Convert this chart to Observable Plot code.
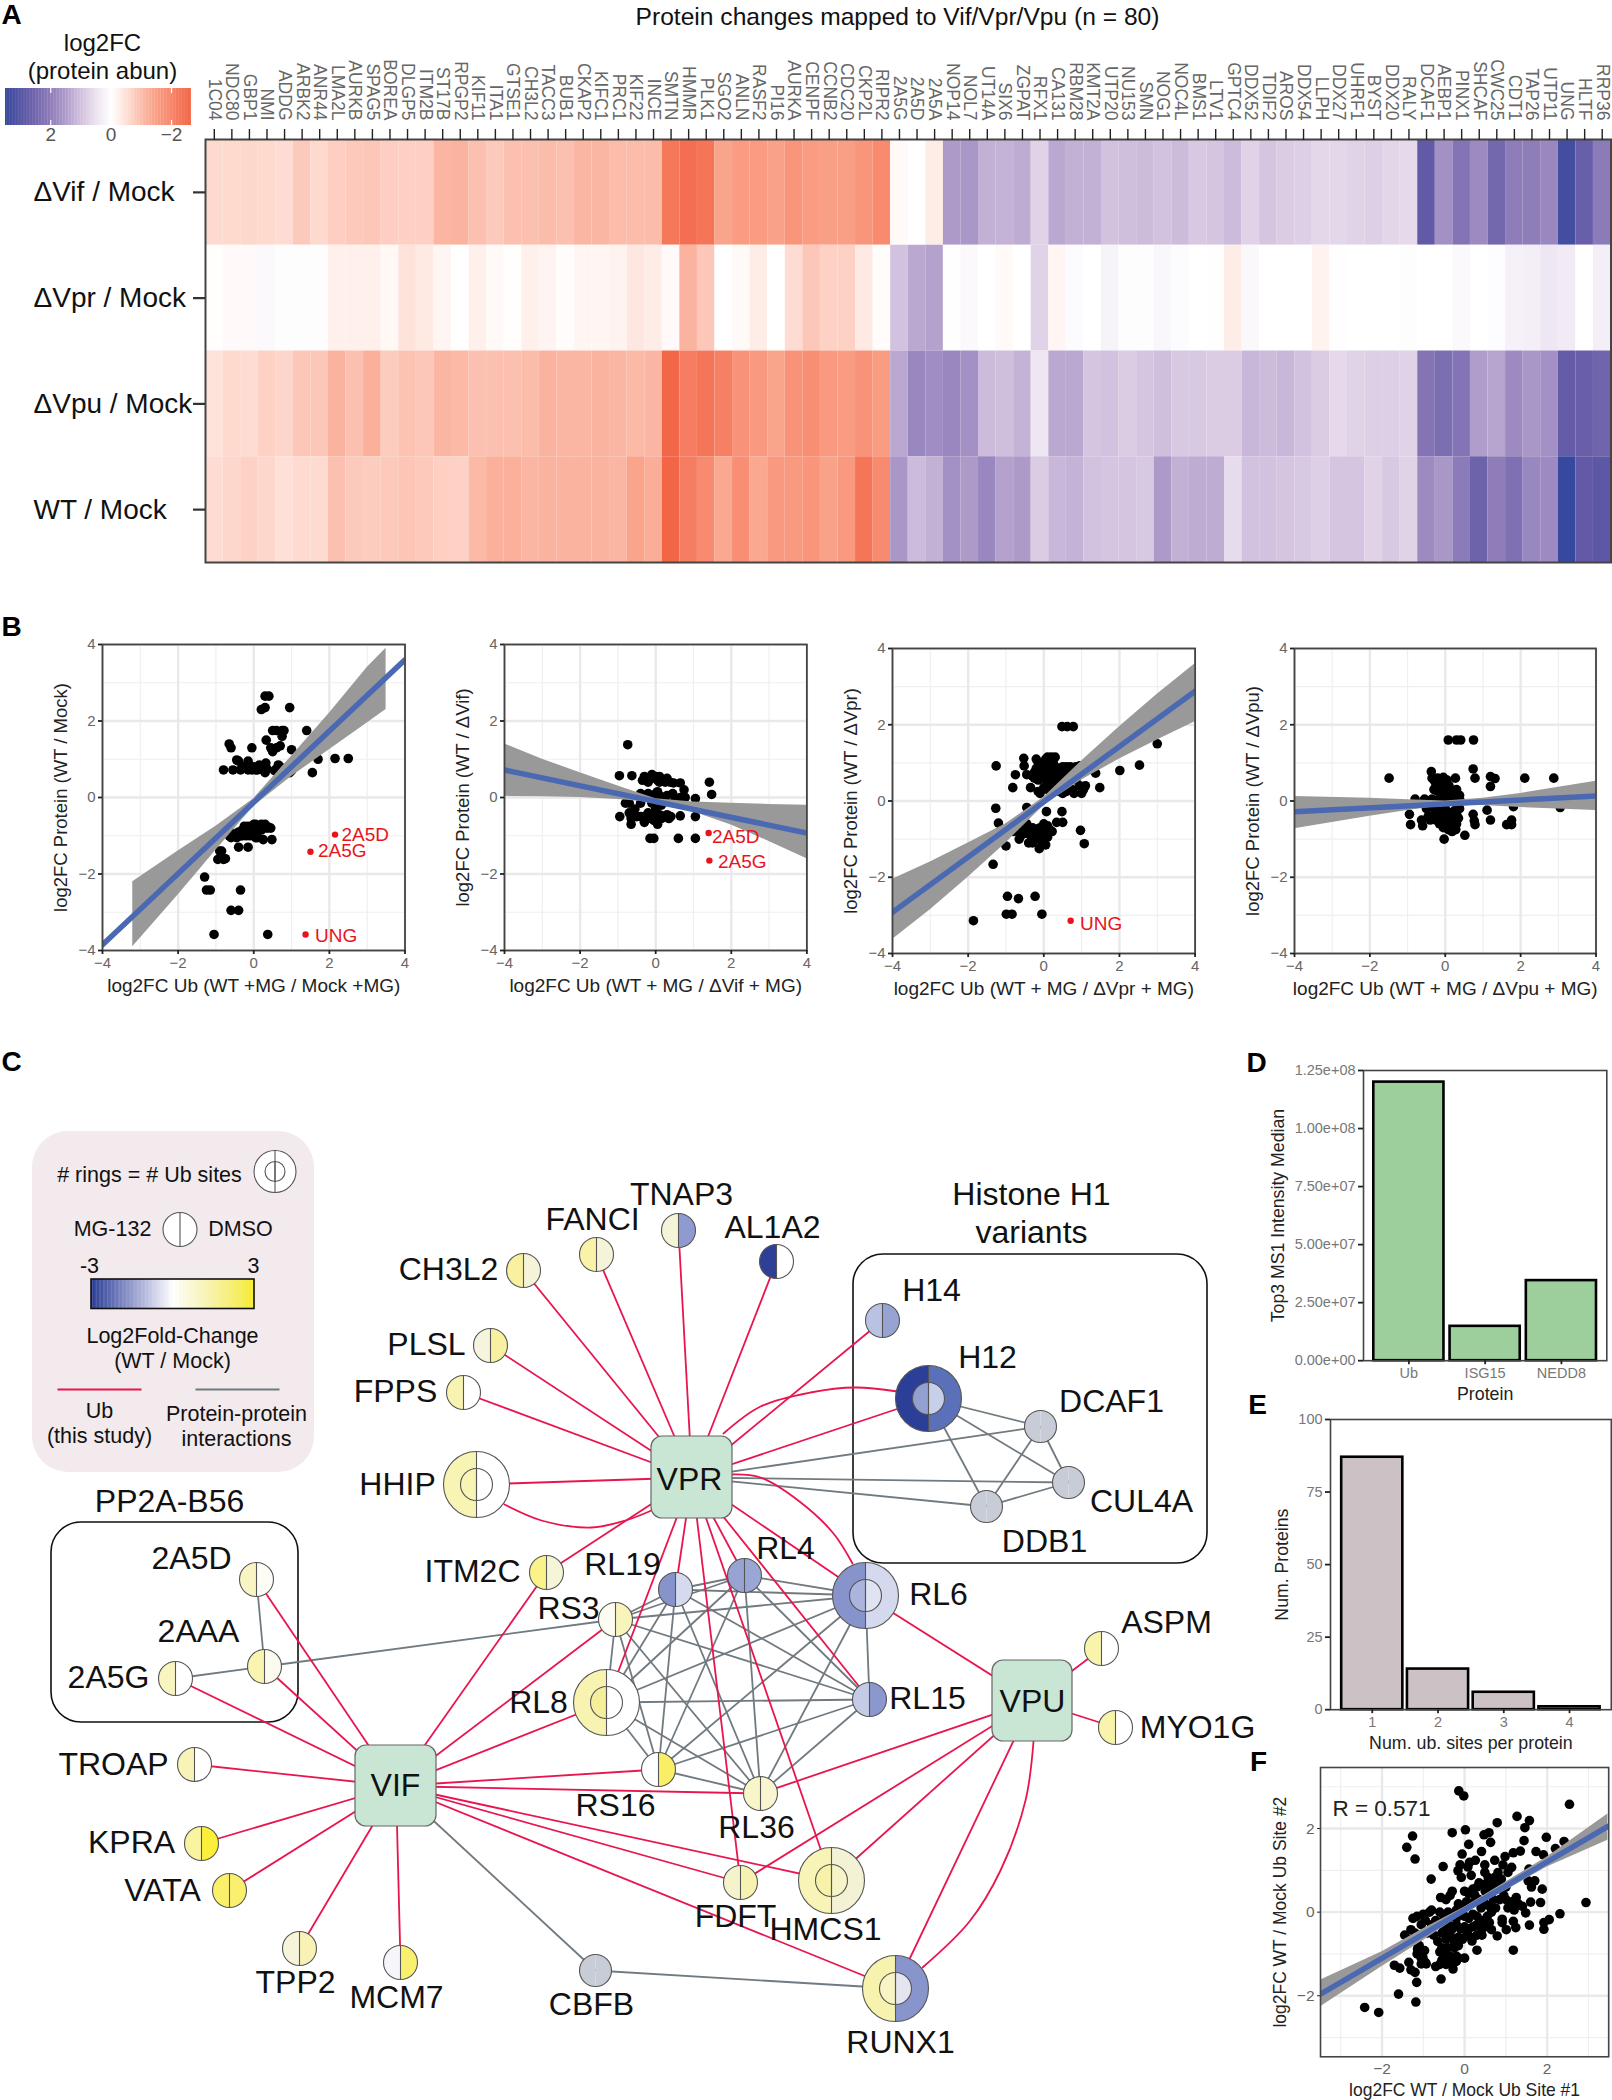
<!DOCTYPE html>
<html><head><meta charset="utf-8">
<script src="https://cdn.jsdelivr.net/npm/d3@7"></script>
<script src="https://cdn.jsdelivr.net/npm/@observablehq/plot@0.6"></script>
<style>html,body{margin:0;padding:0;background:#fff}#root{position:relative;width:1612px;height:2100px;overflow:hidden}</style>
</head><body><div id="root"></div>
<script>
const FONT = "'Liberation Sans',Arial,sans-serif";
// ---------- A: heatmap ----------
const proteinNames = ["1C04","NDC80","GBP1","NMI","ADDG","ARBK2","ANR44","LMA2L","AURKB","SPAG5","BOREA","DLGP5","ITM2B","ST17B","RPGP2","KIF11","ITA1","GTSE1","CH3L2","TACC3","BUB1","CKAP2","KIFC1","PRC1","KIF22","INCE","SMTN","HMMR","PLK1","SGO2","ANLN","RASF2","PI16","AURKA","CENPF","CCNB2","CDC20","CKP2L","RIPR2","2A5G","2A5D","2A5A","NOP14","NOL7","UT14A","SIX6","ZGPAT","RFX1","CA131","RBM28","KMT2A","UTP20","NU153","SMN","NOG1","NOC4L","BMS1","LTV1","GPTC4","DDX52","TDIF2","AROS","DDX54","LLPH","DDX27","UHRF1","BYST","DDX20","RALY","DCAF1","AEBP1","PINX1","SHCAF","CWC25","CDT1","TAP26","UTP11","UNG","HLTF","RRP36"];
const rowNames = ["ΔVif / Mock","ΔVpr / Mock","ΔVpu / Mock","WT / Mock"];
const vifRow = [-.6,-.6,-.62,-.6,-.55,-.8,-.6,-.75,-.82,-.85,-.75,-.72,-.72,-1.1,-1.15,-.95,-.8,-.95,-.95,-1,-.95,-1.1,-1.1,-1,-1,-1,-2.25,-2.4,-2.3,-1.4,-1.55,-1.55,-1.45,-1.7,-1.55,-1.5,-1.5,-1.7,-1.9,-.1,0,-.3,1.55,1.6,1.25,1.2,1.3,.75,1.35,1.25,1.25,1,1.05,1.1,1,1.1,.9,.95,1.1,.75,.95,.85,.8,.68,.68,.75,.8,.7,.65,2.8,1.7,2.2,1.8,2.5,2,2,1.85,3.3,2.7,2.05];
const vprRow = [-.02,-.08,-.08,.1,.03,.03,.03,-.25,-.25,-.25,-.12,-.45,-.35,-.15,0,-.25,-.1,-.02,-.25,-.18,-.05,-.15,-.15,-.2,-.38,-.3,-.08,-1.15,-.85,0,-.1,-.3,0,-.55,-.85,-.7,-.7,-.35,-.05,1,1.35,1.45,.02,.1,0,-.1,0,.75,-.15,.08,0,.2,.03,.03,.15,.07,0,.02,-.3,.12,0,0,0,-.2,.02,0,0,0,.03,0,0,.1,0,.05,.25,.3,.45,.35,0,.3];
const vpuRow = [-.45,-.6,-.55,-.7,-.65,-.85,-.85,-1.15,-.95,-1.2,-.78,-.9,-.85,-1.1,-1.05,-.95,-.95,-.95,-1,-1.15,-1.1,-1.1,-1.15,-1.1,-1.05,-1.1,-2.55,-2.15,-2.3,-2.1,-1.75,-1.6,-1.4,-1.75,-1.8,-1.6,-1.55,-1.75,-1.55,1.35,1.85,1.75,1.85,1.7,1.1,1.05,1.2,.45,1.35,1.35,.95,1,.85,.95,1.05,.9,.9,.85,.85,1.15,1.1,1.15,1,.85,.65,.75,.8,.8,.75,2.2,2.35,2.2,1.5,1.4,1.8,1.6,1.7,2.75,2.7,2.55];
const wtRow = [-.55,-.62,-.7,-.62,-.5,-.58,-.58,-.95,-.8,-.78,-.82,-.88,-.82,-.72,-.7,-1.05,-1.2,-1.2,-1.1,-1.15,-1.15,-1.15,-1.15,-1.1,-1.4,-1.25,-2.6,-2.15,-1.9,-1.35,-1.8,-1.35,-1.6,-1.6,-1.7,-1.45,-1.6,-2.3,-1.9,1.6,1.1,1.25,1.7,1.55,1.85,1.45,1.55,.85,1.15,1.2,1,.95,.95,.9,1.55,1.25,1.3,1.3,.6,1,1,.95,.9,.8,.95,.95,.75,.9,.75,1.8,1.6,2.05,2.6,2,2.3,1.85,1.8,3.5,2.8,2.9];
const heatRows = [vifRow,vprRow,vpuRow,wtRow];
const heatStops = [-2.63,-2,-1.5,-1,-.5,0,.5,1,1.5,2,2.8,3.5];
const heatColors = ["#f26344","#f7856a","#f99f85","#fbbcaa","#fee0d7","#ffffff","#ece3f0","#d3c2df","#b09dcb","#8f7dba","#625aa6","#37499e"];
const heatLegendTicks = [2,0,-2];
// ---------- B: scatter panels ----------
const b1Points = [[.3,2.65],[.4,2.65],[.2,2.3],[.3,2.35],[.95,2.35],[.5,1.75],[.6,1.75],[.75,1.75],[.8,1.75],[1.4,1.75],[.75,1.6],[.33,1.5],[-.65,1.4],[-.6,1.3],[.45,1.3],[.6,1.3],[.7,1.35],[-.05,1.3],[1,1.25],[1.4,1.35],[.5,1.2],[-.45,.98],[-.4,.95],[-.15,.95],[1.1,1],[1.7,1],[2.15,1.02],[2.5,1.02],[1.5,1.1],[1.55,.65],[-.8,.72],[-.55,.72],[-.35,.72],[-.3,.8],[-.15,.72],[-.05,.72],[0,.8],[.05,.72],[.1,.72],[.15,.85],[.25,.72],[.3,.65],[.32,.9],[.35,.75],[.55,.7],[.6,.75],[.65,.85],[.7,.8],[.85,.68],[.95,.65],[1,.7],[-.65,-1],[-.6,-1.05],[-.55,-.95],[-.5,-1],[-.45,-1.05],[-.4,-.9],[-.35,-1],[-.3,-.85],[-.25,-.95],[-.2,-.8],[-.15,-.75],[-.1,-.85],[-.05,-.75],[0,-.7],[.05,-.7],[.1,-.75],[.15,-.8],[.2,-.7],[.25,-.75],[.3,-.7],[.35,-.8],[.4,-.78],[.45,-.8],[.05,-1.05],[.1,-1.05],[.25,-1.1],[.48,-1.1],[-.4,-1.3],[-.15,-1.3],[-.9,-1.4],[-.85,-1.4],[-.95,-1.62],[-.8,-1.62],[-.75,-1.6],[-1.3,-2.08],[-1.25,-2.42],[-1.15,-2.42],[-.35,-2.42],[-.6,-2.95],[-.4,-2.95],[-1.05,-3.58],[.37,-3.58],[-.3,-1],[-.2,-1],[-.1,-1],[0,-.95],[.1,-.9],[.2,-.85],[-.25,-.75],[-.05,-.9],[.02,-.85]];
const b1Red = [[2.15,-.97],[1.5,-1.42],[1.37,-3.58]];
const b1Labels = [["2A5D",2.32,-.97],["2A5G",1.7,-1.4],["UNG",1.62,-3.63]];
const b1Line = [[-4,-3.85],[4,3.6]];
const b1BandX = [-3.2,-2,-1,0,1,2,3,3.5];
const b1BandLo = [-3.9,-2.55,-1.38,-.23,.55,1.25,1.95,2.3];
const b1BandHi = [-2.2,-1.4,-.75,-.03,1.08,2.2,3.4,3.9];
const b2Points = [[-.74,1.38],[-.96,.57],[-.63,.57],[-.35,.45],[-.3,.55],[-.2,.4],[-.1,.5],[-.1,.6],[0,.55],[.05,.45],[.1,.4],[.1,.55],[.2,.45],[.25,.4],[.3,.5],[.38,.4],[.47,.38],[.65,.38],[.75,.2],[1.42,.4],[1.48,.08],[-.4,.1],[-.3,.05],[-.2,.1],[-.1,0],[0,.1],[.05,.15],[.1,.05],[.2,0],[.3,.05],[.45,.1],[.78,0],[.65,0],[1.05,-.03],[.5,-.1],[-.95,-.5],[-.8,-.15],[-.7,-.15],[-.7,-.4],[-.65,-.55],[-.65,-.7],[-.55,-.3],[-.5,-.5],[-.4,-.15],[-.4,-.5],[-.3,-.5],[-.3,-.65],[-.2,-.4],[-.2,-.55],[-.1,-.15],[-.1,-.45],[-.05,-.6],[0,-.3],[0,-.55],[.05,-.7],[.1,-.45],[.15,-.2],[.15,-.55],[.2,-.5],[.3,-.45],[.35,-.55],[.4,-.5],[.65,-.48],[1.05,-.5],[-.15,-1.07],[-.05,-1.07],[.6,-1.07],[1.05,-1.07]];
const b2Red = [[1.4,-.93],[1.42,-1.65]];
const b2Labels = [["2A5D",1.49,-1.03],["2A5G",1.65,-1.69]];
const b2Line = [[-4,.72],[4,-.93]];
const b2BandX = [-4,-3,-2,-1,0,1,2,3,4];
const b2BandLo = [.03,.02,0,-.05,-.14,-.38,-.72,-1.15,-1.6];
const b2BandHi = [1.4,1,.65,.3,-.03,-.12,-.15,-.18,-.2];
const b3Points = [[.78,1.95],[.48,1.95],[.62,1.95],[3,1.5],[2.53,.94],[2.01,.8],[1.48,.35],[1.37,.73],[-1.26,.92],[-.75,.69],[-.82,.35],[-.53,1.12],[-.52,.92],[-.45,.69],[-.35,.35],[-.2,1.1],[-.15,1],[-.1,.9],[-.2,.85],[-.3,.65],[-.25,.75],[-.15,.7],[-.05,.8],[0,1],[.05,1.1],[.1,1.15],[.2,1.15],[.3,1.15],[.15,1],[.25,1],[.3,.9],[.35,.85],[.5,.9],[.6,.9],[.7,.9],[.85,.9],[.95,.92],[.05,.85],[.1,.8],[.2,.85],[.25,.7],[.15,.65],[.05,.65],[-.05,.6],[-.15,.55],[-.25,.6],[.35,.6],[.45,.7],[.55,.7],[.65,.7],[.4,.55],[.5,.5],[.6,.55],[.3,.45],[.2,.5],[.1,.5],[.75,.6],[.85,.55],[-.15,.25],[-.1,.2],[0,.35],[.1,.3],[.2,.3],[.3,.25],[.4,.25],[.5,.2],[.6,.25],[.75,.3],[.8,.2],[1.05,.3],[1,.2],[1.1,.4],[.95,.4],[-1.27,-.19],[-1.2,-.58],[-.45,-.17],[.07,-.28],[.48,-.28],[.34,-.56],[.5,-.56],[.97,-.77],[1.07,-1.12],[-1,-1.18],[-1.34,-1.66],[-.8,-.8],[-.7,-.75],[-.6,-.65],[-.55,-.75],[-.45,-.6],[-.4,-.75],[-.3,-.7],[-.2,-.75],[-.1,-.7],[0,-.6],[.1,-.65],[.15,-.75],[.22,-.8],[-.65,-1],[-.6,-.9],[-.5,-.85],[-.4,-1.1],[-.35,-.9],[-.25,-.95],[-.15,-.85],[-.1,-1],[-.05,-.9],[0,-1],[.05,-.85],[.1,-.95],[-.12,-1.25],[-.05,-1.1],[.05,-1.15],[-.3,-1.1],[-.55,-.85],[-.96,-2.5],[-.67,-2.56],[-.23,-2.5],[-.99,-2.97],[-.84,-2.97],[-.05,-2.97],[-1.86,-3.14]];
const b3Red = [[.71,-3.14]];
const b3Labels = [["UNG",.96,-3.22]];
const b3Line = [[-4,-2.92],[4,2.88]];
const b3BandX = [-4,-3,-2,-1,0,1,2,3,4];
const b3BandLo = [-3.63,-2.85,-2,-1.1,-.12,.55,1.1,1.6,2.08];
const b3BandHi = [-2.05,-1.6,-1.1,-.6,.1,1.05,1.95,2.8,3.6];
const b4Points = [[.08,1.6],[.3,1.6],[.41,1.6],[.75,1.6],[.74,.84],[-1.49,.6],[-.37,.77],[.79,.6],[2.11,.6],[2.88,.6],[1.2,.64],[1.32,.59],[1.2,.38],[.27,.6],[-.05,.62],[-.35,.6],[-.3,.55],[-.25,.4],[-.2,.6],[-.15,.5],[-.1,.55],[-.05,.45],[0,.5],[.05,.55],[.1,.4],[-.05,.3],[-.3,.3],[-.2,.25],[0,.2],[.1,.2],[.2,.2],[.3,.3],[.38,.15],[.3,.05],[.2,.05],[-.8,.05],[-.55,.05],[-.45,0],[-.35,.05],[-.25,0],[-.15,.05],[-.05,0],[.05,.02],[.15,0],[.25,0],[.35,.03],[.4,0],[-.5,-.2],[-.45,-.4],[-.4,-.5],[-.35,-.15],[-.3,-.35],[-.25,-.5],[-.2,-.25],[-.15,-.4],[-.1,-.55],[-.05,-.3],[0,-.2],[0,-.45],[.05,-.6],[.1,-.3],[.1,-.5],[.15,-.7],[.2,-.4],[.2,-.55],[.25,-.25],[.3,-.35],[.3,-.6],[.35,-.45],[.38,-.2],[.08,-.75],[.18,-.8],[-.15,-.6],[-.05,-.7],[0,-.65],[.28,-.75],[-.95,-.35],[-.92,-.62],[-.63,-.5],[-.6,-.65],[-.03,-1],[.52,-.9],[.74,-.35],[.77,-.52],[.79,-.62],[1.11,-.24],[1.2,-.5],[1.63,-.62],[1.76,-.5],[1.76,-.62],[1.81,-.15],[3.05,-.17]];
const b4Line = [[-4,-.28],[4,.13]];
const b4BandX = [-4,-2,-1,0,1,2,4];
const b4BandLo = [-.73,-.4,-.25,-.12,-.12,-.17,-.25];
const b4BandHi = [.12,.07,.03,0,.07,.2,.52];
// ---------- D, E ----------
const dProteins = ["Ub","ISG15","NEDD8"];
const dValues = [1.2e8,1.48e7,3.45e7];
const dTicks = [0,2.5e7,5e7,7.5e7,1e8,1.25e8];
const dTickLabels = ["0.00e+00","2.50e+07","5.00e+07","7.50e+07","1.00e+08","1.25e+08"];
const eSites = ["1","2","3","4"];
const eCounts = [87,14,6,1];
const eTicks = [0,25,50,75,100];
// ---------- F ----------
const fPoints = [[-.14,2.9],[-.02,2.78],[2.54,2.58],[1.27,2.29],[1.57,2.19],[1.46,2.02],[.79,2.14],[.02,1.97],[-.3,1.9],[.59,1.9],[.47,1.85],[-1.26,1.82],[1.98,1.79],[2.41,1.69],[1.44,1.71],[.63,1.67],[.1,1.62],[-1.4,1.55],[2.2,1.52],[.41,1.45],[-.06,1.39],[1.35,1.46],[1.18,1.42],[1.73,1.45],[1.91,1.37],[-1.2,1.27],[.98,1.33],[.73,1.24],[.26,1.24],[.12,1.19],[-.52,1.09],[-.11,1.13],[.49,1.13],[.93,1.13],[1.14,1.07],[.08,1.08],[-.16,.99],[-.81,.79],[.16,.88],[-.08,.83],[.49,.95],[.81,.95],[1.05,.95],[.73,.83],[.57,.83],[.89,.79],[1.56,1.03],[1.7,.75],[1.54,.75],[1.62,.6],[1.88,.55],[1.6,.24],[1.84,.23],[2.94,.23],[2.31,-.04],[2.05,-.18],[1.92,-.25],[1.92,-.41],[1.48,-.02],[1.4,.14],[1.57,-.31],[1.24,-.37],[1.18,-.22],[.91,-.17],[.91,-.25],[1.01,-.42],[.79,-.57],[.65,-.42],[1.18,-.91],[.3,-.91],[.18,-.69],[0,-1.1],[-.2,-1.18],[-.28,-1.36],[-.57,-1.6],[-1.16,-1.68],[-1.18,-2.15],[-1.6,-1.96],[-2.42,-2.28],[-2.08,-2.4],[-1.7,-1.27],[-1.57,-1.34],[-1.35,-1.2],[-1.3,-1.38],[-1.2,-1.44],[-.93,-1.24],[-1.05,-1.24],[-1.01,-1.08],[-1.14,-.88],[-.97,-.92],[0,.5],[.1,.45],[.2,.55],[.25,.4],[.3,.6],[.35,.7],[.45,.65],[.5,.5],[.55,.7],[.6,.75],[.65,.6],[.7,.7],[.8,.6],[.85,.7],[.9,.55],[1,.6],[.95,.4],[.35,.3],[.25,.25],[.15,.2],[.05,.25],[-.05,.15],[-.15,.2],[-.2,.05],[-.3,.5],[-.35,.4],[-.45,.3],[-.58,.35],[.4,.1],[.5,.2],[.6,.15],[.7,.3],[.85,.3],[1,.3],[1.15,.25],[1.25,.35],[1.3,.2],[1.2,.05],[1.05,.1],[.75,.1],[.65,0],[.55,-.1],[.45,-.2],[.3,-.1],[.2,-.05],[.1,-.15],[0,-.1],[-.1,-.05],[-.2,-.15],[-.3,-.05],[-.4,0],[-.5,-.1],[-.6,0],[-.8,.05],[-.85,0],[-1,-.05],[-1.15,-.1],[-1.25,-.15],[-.95,-.2],[-1.05,-.3],[-.8,-.3],[-.7,-.2],[-.6,-.3],[-.5,-.4],[-.4,-.3],[-.3,-.4],[-.2,-.3],[-.1,-.4],[0,-.35],[.1,-.4],[.2,-.35],[.3,-.3],[.4,-.45],[.5,-.35],[.6,-.25],[-1.3,-.42],[-1.2,-.5],[-1.45,-.55],[-1.35,-.65],[-1.2,-.7],[-1.1,-.8],[-.9,-.5],[-.75,-.55],[-.65,-.7],[-.55,-.5],[-.45,-.65],[-.35,-.55],[-.25,-.7],[-.15,-.6],[-.05,-.65],[.05,-.55],[.15,-.6],[.3,-.55],[.42,-.55],[-.55,-.85],[-.4,-.85],[-.25,-.85],[-.15,-.8],[-.6,-.95],[-.5,-1],[-.45,-1.1],[-.35,-1.05],[-.3,-1.15],[-.2,-1.05],[-.15,-1.1],[-.55,-1.15],[-.6,-1.25],[-.7,-1.3],[-.45,-1.25],[-.3,-1.25],[-1.15,-1],[-1.05,-.95],[-.95,-1.2],[-1.05,-1.1]];
const fLine = [[-3.47,-1.95],[3.47,2.05]];
const fBandX = [-3.47,-2,-1,0,1,2,3.47];
const fBandLo = [-2.25,-1.3,-.68,-.02,.52,1.08,1.72];
const fBandHi = [-1.62,-.95,-.4,.12,.72,1.32,2.35];
// ---------- C: network ----------
// name, x, y, r, left colour, right colour, (inner left, inner right)
const GRAYN = "#c8ccd6";
const nodeTable = [
["TNAP3",678,1230,17,"#f4f4d8","#8f9bd0"],["FANCI",596,1254,17,"#f9f2a8","#f6f4d8"],["CH3L2",523,1270,17,"#f9f0a0","#f5f4d8"],["AL1A2",776,1261,17,"#2d3f96","#ffffff"],
["H14",882,1320,17,"#b9c2e2","#97a3d3"],["H12",928,1398,33,"#2b3e98","#5a70b8","#93a0d2","#c8cfe9"],["DCAF1",1040,1426,16,GRAYN,GRAYN],["CUL4A",1068,1482,16,GRAYN,GRAYN],["DDB1",986,1506,16,GRAYN,GRAYN],
["PLSL",490,1345,17,"#f5f5de","#f9f0a0"],["FPPS",463,1392,17,"#f8f3b0","#ffffff"],["HHIP",476,1484,33,"#f8f4b4","#ffffff","#f8f4b4","#ffffff"],["ITM2C",546,1572,17,"#fbf28a","#f5f5d8"],
["RL19",675,1589,17,"#8794cc","#d5daee"],["RL4",744,1575,17,"#97a3d3","#9aa6d4"],["RL6",865,1595,33,"#8793cb","#d4d9ee","#aab4dc","#e0e3f2"],["RS3",615,1619,17,"#fcfcf2","#f8f4bc"],
["ASPM",1101,1648,17,"#f8f4ac","#ffffff"],["MYO1G",1115,1727,17,"#f8f4ac","#ffffff"],
["2A5D",256,1579,17,"#f8f4c4","#fdfdf5"],["2AAA",264,1666,17,"#f9f4b0","#fafaee"],["2A5G",175,1678,17,"#f8f5c0","#ffffff"],
["TROAP",194,1764,17,"#f8f4b8","#ffffff"],["KPRA",201,1843,17,"#f9f4a0","#fbef3a"],["VATA",229,1890,17,"#fbf06a","#faf06e"],["TPP2",299,1948,17,"#f6f5dc","#f8f2b4"],["MCM7",400,1962,17,"#f5f5fa","#faf070"],
["CBFB",595,1970,16,GRAYN,GRAYN],["RUNX1",895,1988,33,"#f7f3ae","#8894cc","#f8f4c4","#e4e5ee"],["HMCS1",831,1880,33,"#f8f4b8","#f4f2d4","#f8f2a8","#f7f5c8"],["FDFT",740,1882,17,"#f5f3cc","#f8f2b0"],
["RL36",760,1793,17,"#f8f5c8","#f8f5d0"],["RS16",658,1769,17,"#ffffff","#f9ee66"],["RL8",606,1702,33,"#f8f3b0","#ffffff","#f6ee9a","#ffffff"],["RL15",869,1699,17,"#c3cbe6","#8b97ce"]];
const legendDots = [["",274.5,1171,21,"#ffffff","#ffffff","#ffffff","#ffffff"],["",179.5,1229,17,"#ffffff","#ffffff"]];
// name, x1, x2, y1, y2
const hubBoxes = [["VPR",651,732,1436,1518],["VIF",355,436,1745,1826],["VPU",992,1072,1660,1741]];
const ubEdges = [["VPR","TNAP3"],["VPR","FANCI"],["VPR","CH3L2"],["VPR","AL1A2"],["VPR","H14"],["VPR","PLSL"],["VPR","FPPS"],["VPR","HHIP"],["VPR","H12"],["VPR","ITM2C"],["VPR","RL19"],["VPR","RL4"],["VPR","RL6"],["VPR","RL8"],["VPR","RL15"],["VPR","FDFT"],["VPR","HMCS1"],
["VIF","ITM2C"],["VIF","RS3"],["VIF","RL8"],["VIF","RS16"],["VIF","RL36"],["VIF","FDFT"],["VIF","HMCS1"],["VIF","RUNX1"],["VIF","2A5D"],["VIF","2AAA"],["VIF","2A5G"],["VIF","TROAP"],["VIF","KPRA"],["VIF","VATA"],["VIF","TPP2"],["VIF","MCM7"],
["VPU","RL6"],["VPU","RL36"],["VPU","FDFT"],["VPU","HMCS1"],["VPU","RUNX1"],["VPU","ASPM"],["VPU","MYO1G"]];
const ppiEdges = [["H12","DCAF1"],["H12","CUL4A"],["H12","DDB1"],["DCAF1","CUL4A"],["DCAF1","DDB1"],["CUL4A","DDB1"],["VPR","DCAF1"],["VPR","CUL4A"],["VPR","DDB1"],["2A5D","2AAA"],["2A5G","2AAA"],["2AAA","RS3"],["VIF","CBFB"],["CBFB","RUNX1"]];
const ribosome = ["RL19","RL4","RL6","RS3","RL8","RL15","RS16","RL36"];
const curvedUb = [
[[504,1504],[541,1520],[591,1527],[625,1520],[651,1510]],
[[897,1391],[855,1387],[810,1392],[760,1406],[723,1433]],
[[732,1474],[760,1477],[799,1501],[833,1533],[852,1563]],
[[922,1967],[969,1921],[1000,1870],[1025,1800],[1033,1741]]];
// text, x, y
const nodeLabels = [["TNAP3",681,1194],["FANCI",592,1219],["CH3L2",448,1269],["AL1A2",772,1227],["H14",931,1290],["H12",987,1357],["DCAF1",1111,1401],["CUL4A",1141,1501],["DDB1",1044,1541],["Histone H1",1031,1194],["variants",1031,1232],["PLSL",426,1344],["FPPS",395,1391],["HHIP",397,1484],["ITM2C",472,1571],["RL19",622,1564],["RL4",785,1548],["RL6",938,1594],["RS3",568,1608],["ASPM",1166,1622],["MYO1G",1197,1727],["VPU",1032,1701],["VPR",689,1479],["2A5D",191,1558],["2AAA",198,1631],["2A5G",108,1677],["PP2A-B56",169,1501],["TROAP",113,1764],["KPRA",131,1842],["VATA",162,1890],["TPP2",295,1982],["MCM7",396,1997],["CBFB",591,2004],["RUNX1",900,2042],["HMCS1",825,1929],["FDFT",735,1916],["RL36",756,1827],["RS16",615,1805],["RL8",538,1702],["RL15",927,1698],["VIF",395,1785]];
const legendLabels = [["# rings = # Ub sites",149,1175],["MG-132",112,1229],["DMSO",240,1229],["-3",89,1266],["3",253,1266],["Log2Fold-Change",172,1336],["(WT / Mock)",172,1361],["Ub",99,1411],["(this study)",99,1436],["Protein-protein",236,1414],["interactions",236,1439]];
const legendBarStops = [-3,-1.8,-.6,0,.6,1.8,3];
const legendBarColors = ["#2b3e98","#7f89c2","#d5d8ec","#ffffff","#fbf9d8","#f7f08c","#f7ec2a"];
const panelLetters = [["A",11,15],["B",11,627],["C",11,1062],["D",1256,1063],["E",1257,1405],["F",1258,1762]];
const bigTitle = [["Protein changes mapped to Vif/Vpr/Vpu (n = 80)",897,17]];
const heatLegendTitle = [["log2FC",102,43],["(protein abun)",102,71]];
const groupBoxes = [[51,298,1522,1722],[853,1207,1254,1563]];
const legendPanel = [[32,314,1131,1472]];
const legendKeys = [[57,141,1389,"#e8154f"],[195,279,1389,"#707a80"]];

const base = {fontFamily:FONT,background:"transparent",overflow:"visible",position:"absolute"};
const at = (left,top)=>({...base,left:left+"px",top:top+"px"});
const root = document.getElementById("root");
const add = p => root.appendChild(p);
const intTick = d => d<0 ? "−"+(-d) : String(d);

// ---------- A ----------
const heatData = rowNames.flatMap((r,i)=>proteinNames.map((p,j)=>({p,r,v:heatRows[i][j]})));
const heatScale = {type:"linear",domain:heatStops,range:heatColors,clamp:true};
add(Plot.plot({
  width:1612,height:572,marginLeft:205,marginRight:1.5,marginTop:139,marginBottom:10,
  style:at(0,0),
  x:{domain:proteinNames,padding:0,round:false,label:null},
  y:{domain:rowNames,padding:0,round:false,label:null},
  color:heatScale,
  marks:[
    Plot.cell(heatData,{x:"p",y:"r",fill:"v"}),
    Plot.frame({stroke:"#444",strokeWidth:2}),
    Plot.axisX({anchor:"top",tickRotate:90,tickSize:11,tickPadding:8,fontSize:17.5,fill:"#666",stroke:"#222",strokeWidth:1.4,label:null}),
    Plot.axisY({anchor:"left",tickSize:12,tickFormat:()=>"",stroke:"#333",strokeWidth:2.2,label:null}),
    Plot.text(rowNames,{y:d=>d,frameAnchor:"left",dx:-172,textAnchor:"start",fontSize:28,fill:"#111",text:d=>d})
  ]
}));
// heat legend
const heatRamp = d3.range(3.5,-2.63,-0.05);
add(Plot.plot({
  width:195,height:77,marginLeft:5,marginRight:5,marginTop:8,marginBottom:32,
  style:at(0,80),
  x:{domain:[3.5,-2.63],label:null},y:{axis:null},
  color:heatScale,
  marks:[
    Plot.rect(heatRamp,{x1:d=>d,x2:d=>d-0.06,fill:d=>d}),
    Plot.tickX(heatLegendTicks,{x:d=>d,stroke:"#fff",strokeWidth:1.2,insetTop:0,insetBottom:32}),
    Plot.tickX(heatLegendTicks,{x:d=>d,stroke:"#fff",strokeWidth:1.2,insetTop:32,insetBottom:0}),
    Plot.axisX({ticks:heatLegendTicks,tickFormat:intTick,tickSize:0,tickPadding:2,fontSize:19,fill:"#555",label:null})
  ]
}));
// ---------- scatter helper ----------
function gridMarks(domainMajor,domainMinor){
  return [
    Plot.ruleX(domainMinor,{stroke:"#efefef",strokeWidth:1.2}),Plot.ruleY(domainMinor,{stroke:"#efefef",strokeWidth:1.2}),
    Plot.ruleX(domainMajor,{stroke:"#e9e9e9",strokeWidth:2.4}),Plot.ruleY(domainMajor,{stroke:"#e9e9e9",strokeWidth:2.4})
  ];
}
function fitMarks(bandX,lo,hi,line){
  const band = bandX.map((x,i)=>({x,lo:lo[i],hi:hi[i]}));
  return [
    Plot.areaY(band,{x:"x",y1:"lo",y2:"hi",fill:"#999",curve:"linear"}),
    Plot.line(line,{x:d=>d[0],y:d=>d[1],stroke:"#4a69b2",strokeWidth:5.5,clip:true})
  ];
}
function scatter(c){
  const ml=80,mr=12,mt=8,mb=60;
  add(Plot.plot({
    width:c.right-c.left+ml+mr,height:c.bottom-c.top+mt+mb,marginLeft:ml,marginRight:mr,marginTop:mt,marginBottom:mb,
    style:at(c.left-ml,c.top-mt),
    x:{domain:[-4,4],label:null},y:{domain:[-4,4],label:null},
    marks:[
      ...gridMarks([-4,-2,0,2,4],[-3,-1,1,3]),
      Plot.dot(c.pts,{x:d=>d[0],y:d=>d[1],r:4.8,fill:"#000"}),
      ...fitMarks(c.bx,c.lo,c.hi,c.line),
      Plot.dot(c.red||[],{x:d=>d[0],y:d=>d[1],r:3.2,fill:"#e8141c"}),
      Plot.text(c.labels||[],{x:d=>d[1],y:d=>d[2],text:d=>d[0],textAnchor:"start",fontSize:19,fill:"#e8141c"}),
      Plot.frame({stroke:"#444",strokeWidth:1.8}),
      Plot.axisX({ticks:[-4,-2,0,2,4],tickFormat:intTick,tickSize:4,tickPadding:3,fontSize:15,fill:"#666",stroke:"#222",strokeWidth:1.8,label:null}),
      Plot.axisY({ticks:[-4,-2,0,2,4],tickFormat:intTick,tickSize:4,tickPadding:3,fontSize:15,fill:"#666",stroke:"#222",strokeWidth:1.8,label:null}),
      Plot.text([c.xl],{frameAnchor:"bottom",textAnchor:"middle",dy:35,lineAnchor:"middle",fontSize:19,fill:"#222",text:d=>d}),
      Plot.text([c.yl],{frameAnchor:"left",textAnchor:"middle",dx:-41,rotate:-90,lineAnchor:"middle",fontSize:18.5,fill:"#222",text:d=>d})
    ]
  }));
}
scatter({left:102,right:404.5,top:644,bottom:950,pts:b1Points,red:b1Red,labels:b1Labels,bx:b1BandX,lo:b1BandLo,hi:b1BandHi,line:b1Line,xl:"log2FC Ub (WT +MG / Mock +MG)",yl:"log2FC Protein (WT / Mock)"});
scatter({left:503.6,right:806,top:644,bottom:950,pts:b2Points,red:b2Red,labels:b2Labels,bx:b2BandX,lo:b2BandLo,hi:b2BandHi,line:b2Line,xl:"log2FC Ub (WT + MG / ΔVif + MG)",yl:"log2FC Protein (WT / ΔVif)"});
scatter({left:892,right:1194.6,top:647.7,bottom:952.7,pts:b3Points,red:b3Red,labels:b3Labels,bx:b3BandX,lo:b3BandLo,hi:b3BandHi,line:b3Line,xl:"log2FC Ub (WT + MG / ΔVpr + MG)",yl:"log2FC Protein (WT / ΔVpr)"});
scatter({left:1293.5,right:1595,top:647.7,bottom:952.7,pts:b4Points,bx:b4BandX,lo:b4BandLo,hi:b4BandHi,line:b4Line,xl:"log2FC Ub (WT + MG / ΔVpu + MG)",yl:"log2FC Protein (WT / ΔVpu)"});

// ---------- D ----------
function barPanel(c){
  const ml=95,mr=5,mt=8,mb=50;
  const rows=c.cats.map((k,i)=>({k,v:c.vals[i]}));
  add(Plot.plot({
    width:c.right-c.left+ml+mr,height:c.bottom-c.top+mt+mb,marginLeft:ml,marginRight:mr,marginTop:mt,marginBottom:mb,
    style:at(c.left-ml,c.top-mt),
    x:{domain:c.cats,paddingInner:c.pi,paddingOuter:c.po,round:false,label:null},
    y:{domain:c.yd,label:null},
    marks:[
      Plot.barY(rows,{x:"k",y:"v",fill:c.fill,stroke:"#000",strokeWidth:2.6}),
      Plot.frame({stroke:"#444",strokeWidth:1.6}),
      Plot.axisX({tickSize:4,tickPadding:3,fontSize:14.5,fill:"#777",stroke:"#222",strokeWidth:1.8,label:null}),
      Plot.axisY({ticks:c.yt,tickFormat:c.yf,tickSize:5,tickPadding:3,fontSize:14.5,fill:"#777",stroke:"#222",strokeWidth:1.8,label:null}),
      Plot.text([c.xl],{frameAnchor:"bottom",textAnchor:"middle",dy:34,lineAnchor:"middle",fontSize:17.8,fill:"#222",text:d=>d}),
      Plot.text([c.yl],{frameAnchor:"left",textAnchor:"middle",dx:c.ydx,rotate:-90,lineAnchor:"middle",fontSize:17.7,fill:"#222",text:d=>d})
    ]
  }));
}
barPanel({left:1363.3,right:1606.6,top:1070.3,bottom:1360.5,cats:dProteins,vals:dValues,pi:.08,po:.135,yd:[0,1.25e8],yt:dTicks,yf:(d)=>dTickLabels[dTicks.indexOf(d)],fill:"#9ccf9c",xl:"Protein",yl:"Top3 MS1 Intensity Median",ydx:-85});
barPanel({left:1329.8,right:1610.6,top:1418.8,bottom:1709,cats:eSites,vals:eCounts,pi:.07,po:.17,yd:[0,100],yt:eTicks,yf:d=>String(d),fill:"#ccc2c6",xl:"Num. ub. sites per protein",yl:"Num. Proteins",ydx:-48});

// ---------- F ----------
{
  const ml=60,mr=3,mt=8,mb=44;
  add(Plot.plot({
    width:1608.6-1320.4+ml+mr,height:2056-1766.7+mt+mb,marginLeft:ml,marginRight:mr,marginTop:mt,marginBottom:mb,
    style:at(1320.4-ml,1766.7-mt),
    x:{domain:[-3.49,3.49],label:null},y:{domain:[-3.46,3.46],label:null},
    marks:[
      ...gridMarks([-2,0,2],[-3,-1,1,3]),
      Plot.dot(fPoints,{x:d=>d[0],y:d=>d[1],r:4.8,fill:"#000"}),
      ...fitMarks(fBandX,fBandLo,fBandHi,fLine),
      Plot.text(["R = 0.571"],{x:-3.2,y:2.48,text:d=>d,textAnchor:"start",fontSize:22.5,fill:"#222"}),
      Plot.frame({stroke:"#444",strokeWidth:1.6}),
      Plot.axisX({ticks:[-2,0,2],tickFormat:intTick,tickSize:0,tickPadding:6,fontSize:15.5,fill:"#666",label:null}),
      Plot.axisY({ticks:[-2,0,2],tickFormat:intTick,tickSize:3,tickPadding:3,fontSize:15.5,fill:"#666",stroke:"#222",label:null}),
      Plot.text(["log2FC WT / Mock Ub Site #1"],{frameAnchor:"bottom",textAnchor:"middle",dy:34,lineAnchor:"middle",fontSize:17.5,fill:"#222",text:d=>d}),
      Plot.text(["log2FC WT / Mock Ub Site #2"],{frameAnchor:"left",textAnchor:"middle",dx:-40,rotate:-90,lineAnchor:"middle",fontSize:17.5,fill:"#222",text:d=>d})
    ]
  }));
}
// ---------- C + free page text ----------
const leftHalf = {draw(c,s){const r=Math.sqrt(s/Math.PI);c.arc(0,0,r,Math.PI/2,Math.PI*3/2);c.closePath();}};
const rightHalf = {draw(c,s){const r=Math.sqrt(s/Math.PI);c.arc(0,0,r,-Math.PI/2,Math.PI/2);c.closePath();}};
const divider = {draw(c,s){const r=Math.sqrt(s/Math.PI);c.moveTo(0,-r);c.lineTo(0,r);}};
const allDots = [...nodeTable,...legendDots].map(d=>({n:d[0],x:d[1],y:d[2],r:d[3],l:d[4],rc:d[5],il:d[6],ir:d[7]}));
const inner = allDots.filter(d=>d.il).map(d=>({...d,r:d.r>=30?16:10,l:d.il,rc:d.ir}));
const pos = new Map([...allDots.map(d=>[d.n,[d.x,d.y]]),...hubBoxes.map(b=>[b[0],[(b[1]+b[2])/2,(b[3]+b[4])/2]])]);
const toLink = e=>({a:pos.get(e[0]),b:pos.get(e[1])});
const clique = d3.merge(ribosome.map((a,i)=>ribosome.slice(i+1).map(b=>[a,b])));
const curves = curvedUb.flatMap((pts,id)=>pts.map(p=>({id,x:p[0],y:p[1]})));
const colorBar = d3.range(-3,3,.05);
const cbx = d3.scaleLinear().domain([-3,3]).range([91,254]);
const cbc = d3.scaleLinear().domain(legendBarStops).range(legendBarColors);
function dotLayers(data){
  return [
    Plot.dot(data,{x:"x",y:"y",r:"r",fill:"l",symbol:leftHalf}),
    Plot.dot(data,{x:"x",y:"y",r:"r",fill:"rc",symbol:rightHalf}),
    Plot.dot(data,{x:"x",y:"y",r:"r",fill:"none",stroke:"#555",strokeWidth:1.1})
  ];
}
const linkMark = (rows,color,w)=>Plot.link(rows,{x1:d=>d.a[0],y1:d=>d.a[1],x2:d=>d.b[0],y2:d=>d.b[1],stroke:color,strokeWidth:w});
const textMark = (rows,opts)=>Plot.text(rows,{x:d=>d[1],y:d=>d[2],text:d=>d[0],fill:"#111",lineAnchor:"middle",...opts});
add(Plot.plot({
  width:1612,height:2100,margin:0,
  style:{...at(0,0),pointerEvents:"none"},
  x:{domain:[0,1612],range:[0,1612],axis:null},
  y:{domain:[0,2100],range:[0,2100],axis:null},
  r:{type:"identity"},color:{type:"identity"},
  marks:[
    Plot.rect(legendPanel,{x1:d=>d[0],x2:d=>d[1],y1:d=>d[2],y2:d=>d[3],fill:"#f2eaec",rx:36}),
    Plot.rect(groupBoxes,{x1:d=>d[0],x2:d=>d[1],y1:d=>d[2],y2:d=>d[3],fill:"none",stroke:"#111",strokeWidth:1.6,rx:30}),
    linkMark(clique.map(toLink),"#707a80",1.8),
    linkMark(ppiEdges.map(toLink),"#707a80",1.8),
    linkMark(ubEdges.map(toLink),"#e8154f",1.8),
    Plot.line(curves,{x:"x",y:"y",z:"id",stroke:"#e8154f",strokeWidth:1.8,curve:"catmull-rom"}),
    Plot.link(legendKeys,{x1:d=>d[0],x2:d=>d[1],y1:d=>d[2],y2:d=>d[2],stroke:d=>d[3],strokeWidth:2}),
    ...dotLayers(allDots),
    ...dotLayers(inner),
    Plot.dot([...allDots,...inner].filter(d=>d.l!==GRAYN),{x:"x",y:"y",r:"r",symbol:divider,fill:"none",stroke:"#555",strokeWidth:1.1}),
    Plot.rect(hubBoxes,{x1:d=>d[1],x2:d=>d[2],y1:d=>d[3],y2:d=>d[4],fill:"#c9e6d4",stroke:"#666",strokeWidth:1.2,rx:11}),
    Plot.rect(colorBar,{x1:d=>cbx(d),x2:d=>cbx(d+.06),y1:1279,y2:1308.5,fill:d=>cbc(d)}),
    Plot.rect([0],{x1:91,x2:254,y1:1279,y2:1308.5,fill:"none",stroke:"#111",strokeWidth:1.6}),
    textMark(nodeLabels,{fontSize:32}),
    textMark(legendLabels,{fontSize:21.5}),
    textMark(bigTitle,{fontSize:24.6}),
    textMark(heatLegendTitle,{fontSize:24}),
    textMark(panelLetters,{fontSize:28,fontWeight:"bold",fill:"#000"})
  ]
}));
</script></body></html>
